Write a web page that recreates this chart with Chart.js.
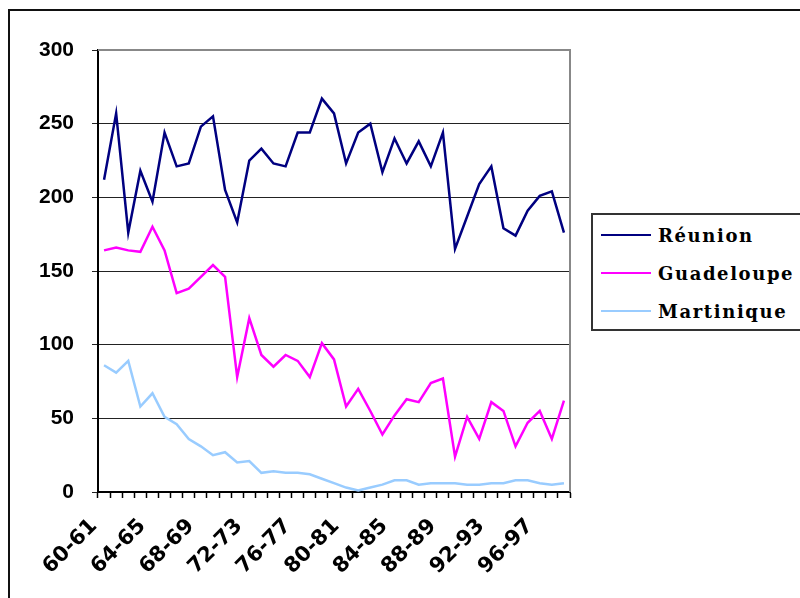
<!DOCTYPE html>
<html>
<head>
<meta charset="utf-8">
<script src="https://cdn.jsdelivr.net/npm/chart.js@4"></script>
<style>
  body { margin: 0; background: #fff; }
  #wrap { position: relative; width: 800px; height: 598px; overflow: hidden; }
  #frame { position: absolute; left: 8px; top: 9px; width: 900px; height: 700px; border: 2px solid #111; }
  #chart { position: absolute; left: 0; top: 0; }
  #legend { position: absolute; left: 591px; top: 213px; width: 240px; height: 114px; border: 2px solid #333; background: #fff; }
  .row { position: absolute; left: 8px; height: 24px; display: flex; align-items: center; }
  .swatch { width: 50px; height: 2px; margin-right: 7px; }
  .lbl { font-family: "DejaVu Serif", serif; font-weight: bold; font-size: 18px; letter-spacing: 1.6px; color: #000; }
</style>
</head>
<body>
<div id="wrap">
  <div id="frame"></div>
  <canvas id="chart" width="800" height="598"></canvas>
  <div id="legend"></div>
</div>
<script>
// categories (school years)
const years = ['60-61','61-62','62-63','63-64','64-65','65-66','66-67','67-68','68-69','69-70',
  '70-71','71-72','72-73','73-74','74-75','75-76','76-77','77-78','78-79','79-80',
  '80-81','81-82','82-83','83-84','84-85','85-86','86-87','87-88','88-89','89-90',
  '90-91','91-92','92-93','93-94','94-95','95-96','96-97','97-98','98-99'];

const reunion = [212,257,176,218,197,244,221,223,248,255,
  205,183,225,233,223,221,244,244,267,257,
  223,244,250,217,240,223,238,221,244,165,
  187,209,221,179,174,191,201,204,176];

const guadeloupe = [164,166,164,163,180,164,135,138,146,154,
  146,78,118,93,85,93,89,78,101,90,
  58,70,55,39,52,63,61,74,77,24,
  51,36,61,55,31,47,55,36,62];

const martinique = [86,81,89,58,67,51,46,36,31,25,
  27,20,21,13,14,13,13,12,9,6,
  3,1,3,5,8,8,5,6,6,6,
  5,5,6,6,8,8,6,5,6];

const yTicks = [0, 50, 100, 150, 200, 250, 300];

const seriesNames = ['Réunion', 'Guadeloupe', 'Martinique'];
const seriesColors = ['#000080', '#FF00FF', '#99CCFF'];

// gray border on top and right of the plot area
const plotBorder = {
  id: 'plotBorder',
  afterDraw(chart) {
    const a = chart.chartArea, ctx = chart.ctx;
    ctx.save();
    ctx.strokeStyle = '#888';
    ctx.lineWidth = 2;
    ctx.beginPath();
    ctx.moveTo(a.left, a.top);
    ctx.lineTo(a.right, a.top);
    ctx.lineTo(a.right, a.bottom);
    ctx.stroke();
    ctx.restore();
  }
};

const ctx = document.getElementById('chart').getContext('2d');
new Chart(ctx, {
  type: 'line',
  data: {
    labels: years,
    datasets: [reunion, guadeloupe, martinique].map((d, i) => ({
      label: seriesNames[i],
      data: d,
      borderColor: seriesColors[i],
      backgroundColor: seriesColors[i],
      borderWidth: 2.5,
      pointRadius: 0,
      tension: 0
    }))
  },
  options: {
    responsive: false,
    animation: false,
    layout: { padding: { left: 8, top: 50, right: 230, bottom: 0 } },
    plugins: { legend: { display: false }, tooltip: { enabled: false } },
    scales: {
      x: {
        offset: true,
        afterFit: s => { s.height = 106; },
        grid: { offset: true, drawOnChartArea: false, color: '#000', tickLength: 6, tickWidth: 1.5 },
        border: { color: '#000', width: 2 },
        ticks: {
          autoSkip: false,
          minRotation: 45,
          maxRotation: 45,
          padding: 16,
          labelOffset: -10,
          color: '#000',
          font: { family: 'DejaVu Sans', weight: 'bold', size: 21 },
          callback: function (v, i) { return i % 4 === 0 ? this.getLabelForValue(v) : ''; }
        }
      },
      y: {
        min: 0,
        max: 300,
        afterFit: s => { s.width = 90; },
        afterBuildTicks: s => { s.ticks = yTicks.map(v => ({ value: v })); },
        grid: { color: '#222', lineWidth: 1, tickLength: 6 },
        border: { color: '#000', width: 2 },
        ticks: {
          padding: 18,
          color: '#000',
          font: { family: 'Liberation Sans', weight: 'bold', size: 21 }
        }
      }
    }
  },
  plugins: [plotBorder]
});

// legend box
const legend = document.getElementById('legend');
const rowTops = [8, 46, 84];
seriesNames.forEach((name, i) => {
  const row = document.createElement('div');
  row.className = 'row';
  row.style.top = rowTops[i] + 'px';
  row.innerHTML = '<div class="swatch" style="background:' + seriesColors[i] + '"></div><span class="lbl">' + name + '</span>';
  legend.appendChild(row);
});
</script>
</body>
</html>
